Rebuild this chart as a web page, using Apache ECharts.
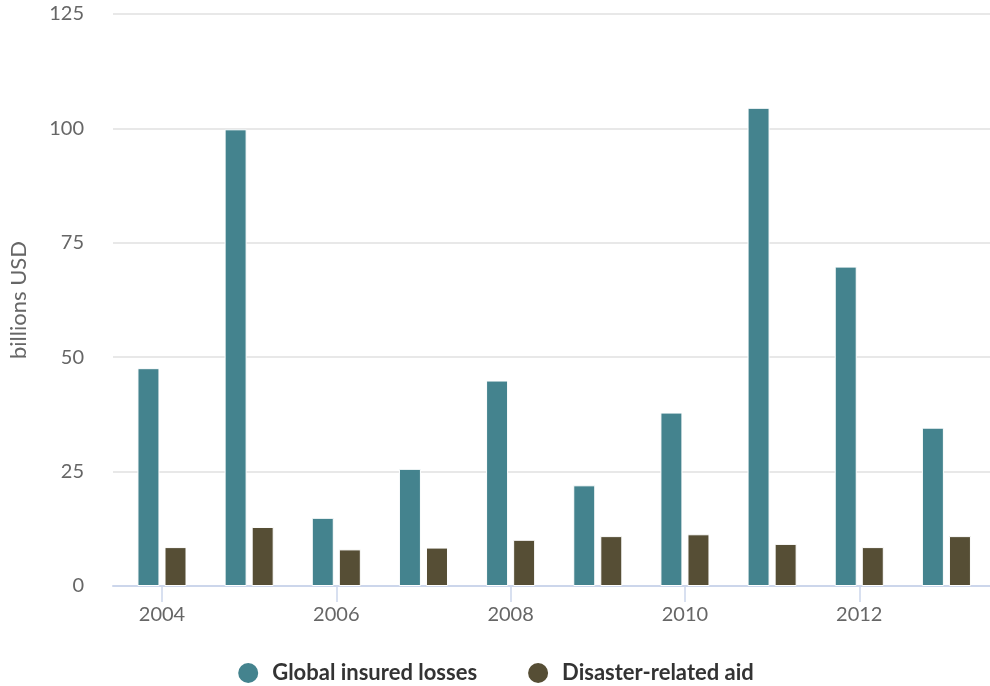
<!DOCTYPE html>
<html><head><meta charset="utf-8">
<script src="https://cdn.jsdelivr.net/npm/echarts@6/dist/echarts.min.js"></script>
<style>html,body{margin:0;padding:0;background:#fff}#c{width:990px;height:686px}</style>
</head><body><div id="c"></div>
<script>
const years = [2004, 2005, 2006, 2007, 2008, 2009, 2010, 2011, 2012, 2013];
const insuredLosses = [47.6, 99.8, 14.9, 25.6, 44.9, 22.0, 37.9, 104.5, 69.8, 34.6];
const disasterAid = [8.5, 12.9, 8.0, 8.4, 10.1, 10.9, 11.3, 9.2, 8.5, 10.9];
const xTickYears = [2004, 2006, 2008, 2010, 2012];
const yTicks = [0, 25, 50, 75, 100, 125];

const chart = echarts.init(document.getElementById('c'), null, {renderer:'canvas'});
chart.setOption({
  animation:false,
  textStyle:{fontFamily:'Lato'},
  grid:{left:113,right:0,top:14,bottom:100},
  legend:{
    top:656, left:'center', icon:'circle', itemWidth:22, itemHeight:22, itemGap:49,
    textStyle:{fontSize:22, fontWeight:'bold', color:'#333', fontFamily:'Lato', padding:[0,0,0,8]},
    data:['Global insured losses','Disaster-related aid']
  },
  xAxis:{
    type:'value', min:2003.438, max:2013.5,
    splitLine:{show:false},
    axisLine:{show:true, onZero:false, lineStyle:{color:'#ccd6eb', width:2}},
    axisTick:{show:true, customValues:xTickYears, length:16, lineStyle:{color:'#ccd6eb', width:1.5}},
    axisLabel:{customValues:xTickYears, formatter:v=>String(v), color:'#666', fontSize:20, margin:19, fontFamily:'Lato'}
  },
  yAxis:{
    type:'value', min:yTicks[0], max:yTicks[yTicks.length-1], interval:25,
    name:'billions USD', nameLocation:'middle', nameGap:83, nameRotate:90,
    nameTextStyle:{color:'#666', fontSize:22, fontFamily:'Lato'},
    axisLabel:{color:'#666', fontSize:20, margin:29, fontFamily:'Lato'},
    splitLine:{lineStyle:{color:'#e8e8e8', width:2}},
    axisLine:{show:false}, axisTick:{show:false}
  },
  series:[
    {name:'Global insured losses', type:'bar', data:years.map((y,i)=>[y, insuredLosses[i]]), barWidth:22, barGap:'23%',
     itemStyle:{color:'#44838e', borderColor:'#fff', borderWidth:1}},
    {name:'Disaster-related aid', type:'bar', data:years.map((y,i)=>[y, disasterAid[i]]), barWidth:22, barGap:'23%',
     itemStyle:{color:'#564e35', borderColor:'#fff', borderWidth:1}}
  ]
});
</script></body></html>
